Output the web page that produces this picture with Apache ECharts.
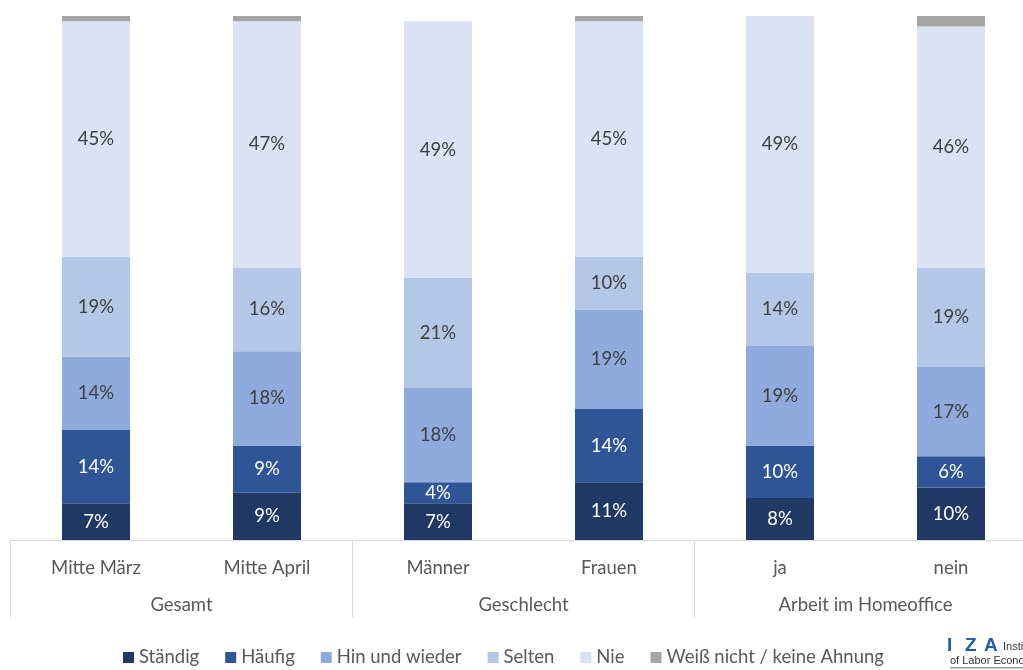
<!DOCTYPE html>
<html>
<head>
<meta charset="utf-8">
<script src="https://cdn.jsdelivr.net/npm/echarts@6/dist/echarts.min.js"></script>
<style>
  html, body { margin: 0; padding: 0; background: #fff; }
  #chart { width: 1023px; height: 670px; }
</style>
</head>
<body>
<div id="chart"></div>
<script>
// Categories (lower axis row) and their groups (upper axis row)
const categories = ['Mitte März', 'Mitte April', 'Männer', 'Frauen', 'ja', 'nein'];
const groups = ['Gesamt', 'Geschlecht', 'Arbeit im Homeoffice'];

// Shares in percent per answer
const staendig   = [7, 9, 7, 11, 8, 10];
const haeufig    = [14, 9, 4, 14, 10, 6];
const hinUndWieder = [14, 18, 18, 19, 19, 17];
const selten     = [19, 16, 21, 10, 14, 19];
const nie        = [45, 47, 49, 45, 49, 46];
const weissNicht = [1, 1, 0, 1, 0, 2];

const seriesDefs = [
  { name: 'Ständig', data: staendig, color: '#203864', label: '#ffffff' },
  { name: 'Häufig', data: haeufig, color: '#2F5597', label: '#ffffff' },
  { name: 'Hin und wieder', data: hinUndWieder, color: '#8FAADC', label: '#404040' },
  { name: 'Selten', data: selten, color: '#B4C7E7', label: '#404040' },
  { name: 'Nie', data: nie, color: '#DAE3F3', label: '#404040' },
  { name: 'Weiß nicht / keine Ahnung', data: weissNicht, color: '#A5A5A5', label: null }
];

const FONT = 'Lato, "Open Sans", sans-serif';
const LOGO_FONT = 'bold 19px "Liberation Sans", sans-serif';
const chart = echarts.init(document.getElementById('chart'));

chart.setOption({
  animation: false,
  textStyle: { fontFamily: FONT },
  grid: { left: 10.5, right: -13.5, top: 16, bottom: 130, outerBoundsMode: 'none', containLabel: false },
  legend: {
    bottom: -2,
    left: 118,
    icon: 'rect',
    itemWidth: 11,
    itemHeight: 11,
    itemGap: 26,
    textStyle: { fontSize: 18.5, color: '#595959', fontFamily: FONT },
    data: seriesDefs.map(s => s.name)
  },
  xAxis: [
    {
      type: 'category',
      data: categories,
      position: 'bottom',
      axisLine: { show: true, lineStyle: { color: '#D9D9D9', width: 1 } },
      axisTick: { show: false },
      axisLabel: { margin: 19, fontSize: 18.5, color: '#595959', fontFamily: FONT }
    },
    {
      type: 'category',
      data: groups,
      position: 'bottom',
      axisLine: { show: false },
      axisTick: { show: true, inside: false, length: 77, alignWithLabel: false, lineStyle: { color: '#D9D9D9' } },
      axisLabel: { margin: 56, fontSize: 18.5, color: '#595959', fontFamily: FONT }
    }
  ],
  yAxis: {
    type: 'value',
    min: 0,
    max: 100,
    show: false
  },
  series: seriesDefs.map(s => ({
    name: s.name,
    type: 'bar',
    stack: 'total',
    xAxisIndex: 0,
    barWidth: 68,
    data: s.data,
    itemStyle: { color: s.color },
    label: s.label ? {
      show: true,
      position: 'inside',
      formatter: '{c}%',
      color: s.label,
      fontSize: 18.5,
      fontFamily: FONT
    } : { show: false }
  })),
  graphic: [
    { type: 'text', left: 947, top: 636, style: { text: 'I', fill: '#1F5DAE', font: LOGO_FONT } },
    { type: 'text', left: 965, top: 636, style: { text: 'Z', fill: '#1F5DAE', font: LOGO_FONT } },
    { type: 'text', left: 984, top: 636, style: { text: 'A', fill: '#1F5DAE', font: LOGO_FONT } },
    { type: 'text', left: 1003, top: 641, style: { text: 'Institute', fill: '#333333', font: '11px "Liberation Sans", sans-serif' } },
    { type: 'text', left: 950, top: 655, style: { text: 'of Labor Economics', fill: '#333333', font: '11px "Liberation Sans", sans-serif' } },
    { type: 'rect', left: 950, top: 667, shape: { width: 80, height: 1.5 }, style: { fill: '#9a9a9a' } }
  ]
});
</script>
</body>
</html>
